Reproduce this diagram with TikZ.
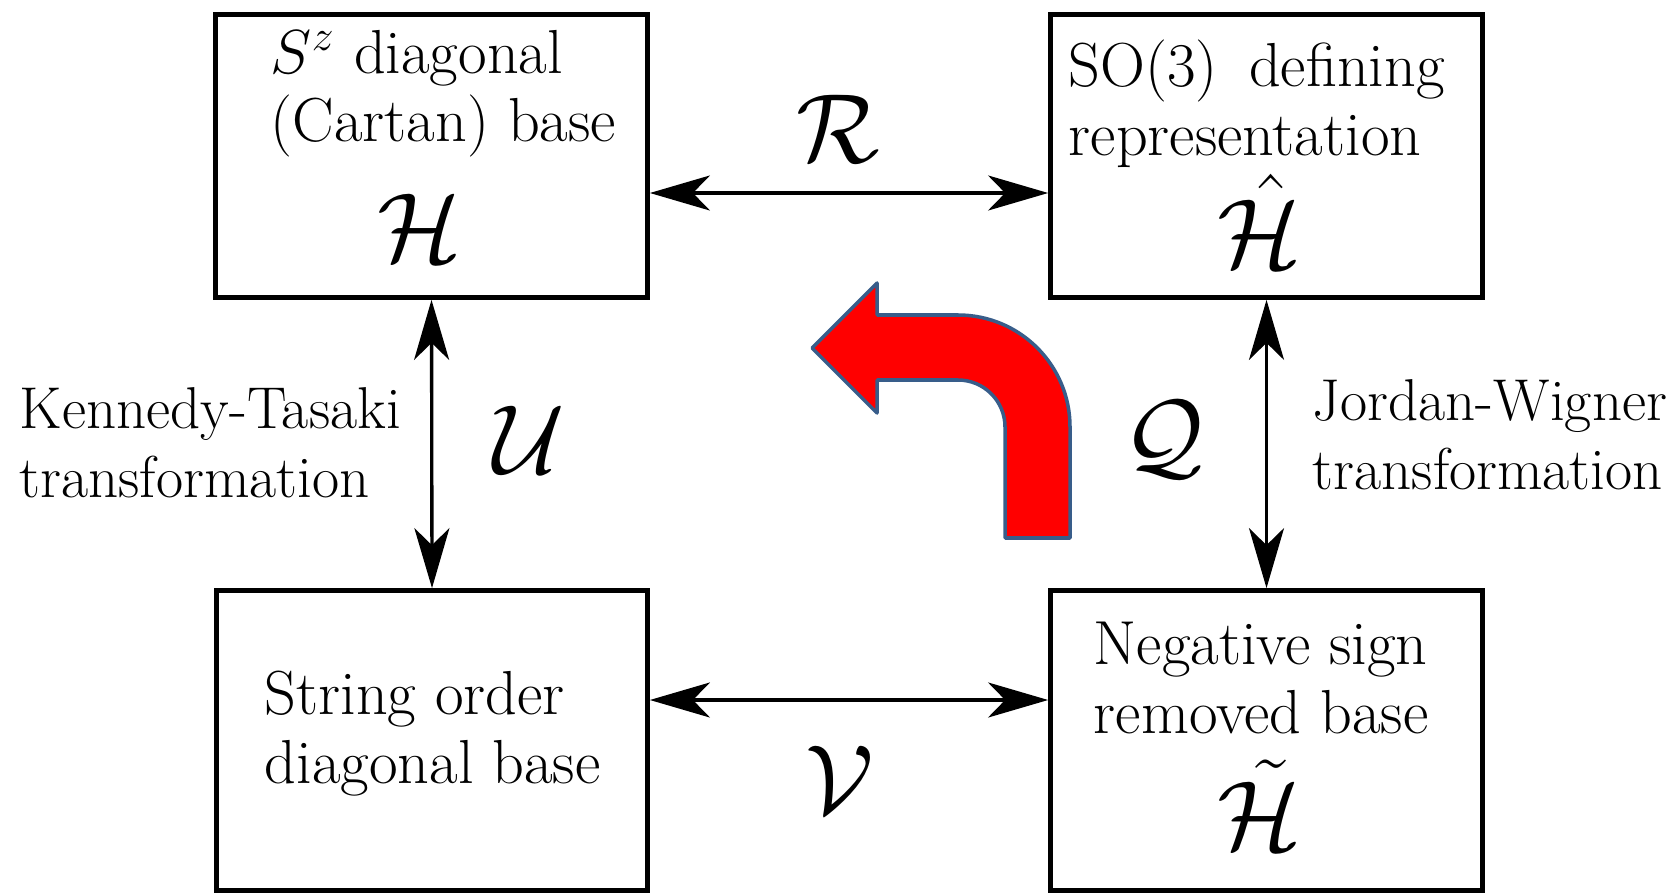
\RequirePackage{fix-cm}
\documentclass[tikz,border=0pt]{standalone}
\usetikzlibrary{arrows.meta}
\definecolor{turnred}{RGB}{255,0,0}
\definecolor{turnedge}{RGB}{56,93,138}
\begin{document}
\begin{tikzpicture}[
  basebox/.style={draw,line width=1.35pt,inner sep=0pt},
  txt/.style={font=\fontsize{16.8}{19.5}\selectfont,inner sep=0pt,align=left},
  boxtxt/.style={txt,font=\fontsize{17.7}{19.5}\selectfont},
  sym/.style={font=\fontsize{28}{28}\selectfont,inner sep=0pt},
  twoway/.style={{Stealth[length=6mm,width=3.5mm,inset=1.7mm]}-{Stealth[length=6mm,width=3.5mm,inset=1.7mm]},line width=0.95pt}]
  \useasboundingbox (0,0) rectangle (16.75,-8.95);
  % the four bases
  \node[basebox,minimum width=4.32cm,minimum height=2.83cm] (cartan) at (4.315,-1.56) {};
  \node[basebox,minimum width=4.32cm,minimum height=2.83cm] (so3) at (12.665,-1.56) {};
  \node[basebox,minimum width=4.31cm,minimum height=3.00cm] (string) at (4.32,-7.405) {};
  \node[basebox,minimum width=4.32cm,minimum height=3.00cm] (nosign) at (12.665,-7.405) {};
  \node[boxtxt,anchor=base west] (cartantext) at (2.70,-1.42) {$S^z$ diagonal\\(Cartan) base};
  \node[sym,anchor=base] (cartanH) at (4.20,-2.62) {$\mathcal{H}$};
  \node[boxtxt,anchor=base west] (so3text) at (10.68,-1.55) {SO(3)\enskip defining\\representation};
  \node[sym,anchor=base] (so3H) at (12.60,-2.67) {$\hat{\mathcal{H}}$};
  \node[boxtxt,anchor=base west] (stringtext) at (2.64,-7.83) {String order\\diagonal base};
  \node[boxtxt,anchor=base west] (nosigntext) at (10.93,-7.33) {Negative sign\\removed base};
  \node[sym,anchor=base] (nosignH) at (12.60,-8.49) {$\tilde{\mathcal{H}}$};
  % transformations
  \draw[twoway] ([yshift=-3.7mm]cartan.east) -- ([yshift=-3.7mm]so3.west);
  \draw[twoway] ([yshift=4.05mm]string.east) -- ([yshift=4.05mm]nosign.west);
  \draw[twoway] (cartan.south) -- (string.north);
  \draw[twoway] (so3.south) -- (nosign.north);
  \node[sym] (R) at (8.38,-1.29) {$\mathcal{R}$};
  \node[sym] (V) at (8.40,-7.80) {$\mathcal{V}$};
  \node[sym] (U) at (5.29,-4.40) {$\mathcal{U}$};
  \node[sym] (Q) at (11.64,-4.40) {$\mathcal{Q}$};
  \node[txt,anchor=base west] (kt) at (0.19,-4.97) {Kennedy-Tasaki\\transformation};
  \node[txt,anchor=base west] (jw) at (13.12,-4.89) {Jordan-Wigner\\transformation};
  % turning arrow
  \draw[fill=turnred,draw=turnedge,line width=1pt,line join=round]
    (8.12,-3.48) -- (8.77,-2.83) -- (8.77,-3.15) -- (9.58,-3.15)
    arc[start angle=90,end angle=0,radius=1.12] -- (10.70,-5.38) -- (10.05,-5.38) -- (10.05,-4.27)
    arc[start angle=0,end angle=90,radius=0.47] -- (8.77,-3.80) -- (8.77,-4.13) -- cycle;
\end{tikzpicture}
\end{document}
